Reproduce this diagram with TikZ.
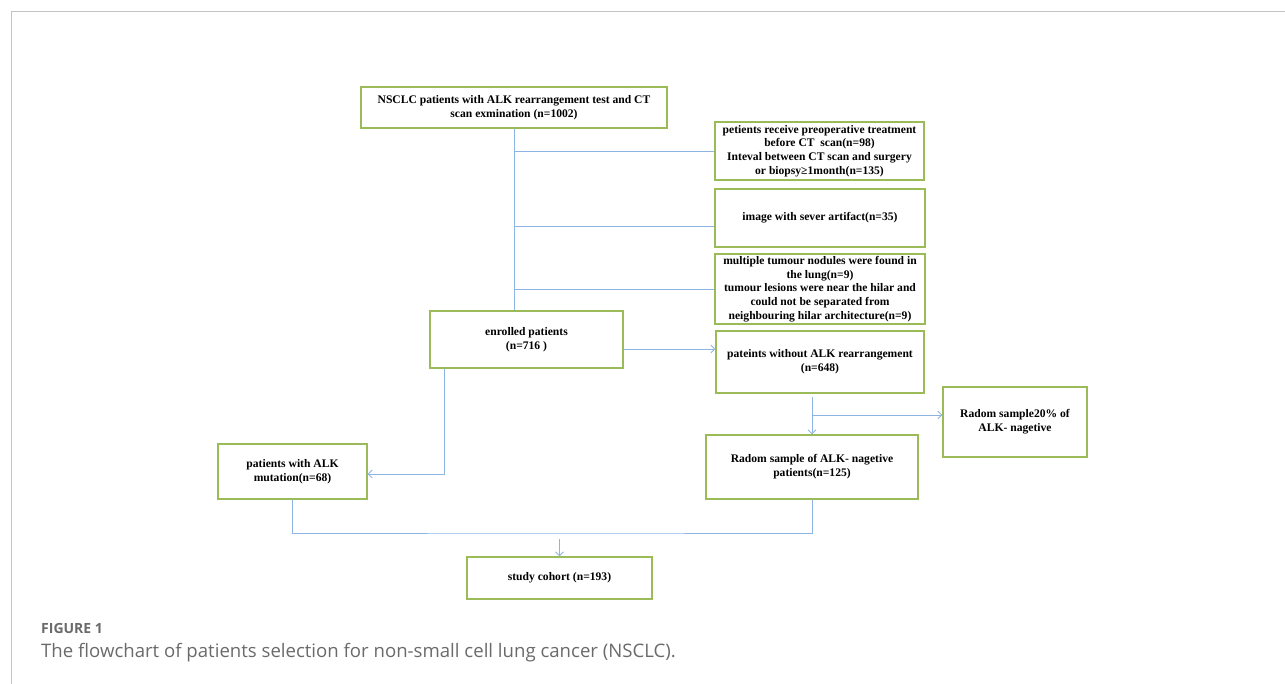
\documentclass[tikz,border=0pt]{standalone}
\usepackage{fontspec}
\setmainfont{Liberation Serif}
\newfontfamily\capfont{Open Sans}
\usetikzlibrary{arrows.meta}
\definecolor{boxCol}{HTML}{9BBB59}
\definecolor{lineCol}{HTML}{8EB4E3}
\definecolor{frameCol}{HTML}{C4C4C4}
\definecolor{capCol}{HTML}{6A6A6A}

\begin{document}
\begin{tikzpicture}[x=1pt,y=-1pt,
  box/.style={draw=boxCol,line width=1.1pt,inner sep=0pt,align=center,
    font=\bfseries\fontsize{11.6}{13.7}\selectfont},
  link/.style={draw=lineCol,line width=0.9pt},
  arr/.style={link,-{Straight Barb[length=4pt,width=8pt]}},
  caption/.style={anchor=base west,inner sep=0pt,text=capCol},
]
\useasboundingbox (0,0) rectangle (1285,684);
\draw[frameCol,line width=1pt] (11,684) -- (11,12) -- (1285,12);

% main column
\node[box,minimum width=306pt,minimum height=41pt] (nsclc) at (514,107.5)
  {NSCLC patients with ALK rearrangement test and CT\\scan exmination (n=1002)};
\node[box,minimum width=193pt,minimum height=57pt] (enrolled) at (526.5,339.5)
  {enrolled patients\\(n=716 )};
\node[box,minimum width=149pt,minimum height=55pt] (alk) at (292.5,471.5)
  {patients with ALK\\mutation(n=68)};
\node[box,minimum width=185pt,minimum height=42pt] (study) at (559.5,578)
  {study cohort (n=193)};

% exclusions
\node[box,minimum width=209pt,minimum height=58pt] (ex1) at (819.5,151)
  {petients receive preoperative treatment\\before CT\ \ scan(n=98)\\Inteval between CT scan and surgery\\or biopsy≥1month(n=135)};
\node[box,minimum width=210pt,minimum height=58pt] (ex2) at (820,218)
  {image with sever artifact(n=35)};
\node[box,minimum width=210pt,minimum height=70pt] (ex3) at (820,289)
  {multiple tumour nodules were found in\\the lung(n=9)\\tumour lesions were near the hilar and\\could not be separated from\\neighbouring hilar architecture(n=9)};

% ALK-negative branch
\node[box,minimum width=208pt,minimum height=62pt] (noalk) at (820,362)
  {pateints without ALK rearrangement\\(n=648)};
\node[box,minimum width=212pt,minimum height=64pt] (radom) at (812,467)
  {Radom sample of ALK- nagetive\\patients(n=125)};
\node[box,minimum width=144pt,minimum height=70pt] (radom20) at (1015,422)
  {Radom sample20\% of\\ALK- nagetive};

% connectors
\draw[link] (nsclc.south) -- (nsclc.south |- enrolled.north);
\draw[link] (nsclc.south |- ex1.west) -- (ex1.west);
\coordinate (b2) at ([yshift=-8pt]ex2.west);
\draw[link] (nsclc.south |- b2) -- (b2);
\draw[link] (nsclc.south |- ex3.west) -- (ex3.west);

\coordinate (e1) at ([yshift=-9.5pt]enrolled.east);
\draw[arr] (e1) -- (e1 -| noalk.west);
\coordinate (e2) at ([xshift=-82.5pt]enrolled.south);
\draw[arr] (e2) |- ([yshift=-2.5pt]alk.east);

\coordinate (n1) at ([yshift=-3pt]radom.north |- noalk.south);
\draw[arr] (n1) -- (radom.north);
\coordinate (n2) at ([yshift=7pt]radom.north |- radom20.west);
\draw[arr] (n2) -- (n2 -| radom20.west);

\coordinate (merge) at (559.5,533);
\draw[link] (alk.south) |- (merge) -| (radom.south);
\draw[arr] ([yshift=-6pt]merge) -- (study.north);

% caption
\node[caption,font=\capfont\bfseries\fontsize{14}{16}\selectfont] (fig) at (41,633) {FIGURE 1};
\node[caption,font=\capfont\fontsize{18.6}{21}\selectfont] (cap) at (41,657)
  {The flowchart of patients selection for non-small cell lung cancer (NSCLC).};
\end{tikzpicture}
\end{document}
